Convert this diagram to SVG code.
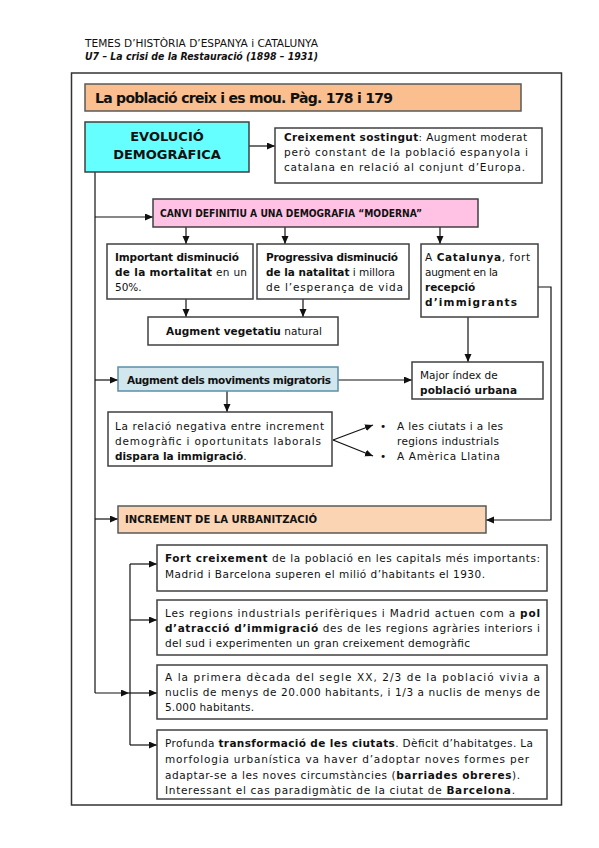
<svg xmlns="http://www.w3.org/2000/svg" width="599" height="848" viewBox="0 0 599 848">
<style>
text{font-family:"DejaVu Sans","Liberation Sans",sans-serif;fill:#111;}
.b{font-weight:bold;}
.t{font-size:10.5px;}
.box{stroke:#404040;stroke-width:1.5;fill:#fff;}
.ln{stroke:#111;stroke-width:1.2;fill:none;}
.ar{marker-end:url(#ah);}
</style>
<defs>
<marker id="ah" markerUnits="userSpaceOnUse" markerWidth="9" markerHeight="8" refX="8" refY="3.5" orient="auto">
<path d="M0,0 L8,3.5 L0,7 z" fill="#111"/>
</marker>
</defs>
<rect width="599" height="848" fill="#fff"/>
<g id="header">
<text x="85" y="47" font-size="10" textLength="233" lengthAdjust="spacingAndGlyphs">TEMES D’HISTÒRIA D’ESPANYA i CATALUNYA</text>
<text x="85" y="60" font-size="10" font-weight="bold" font-style="italic" textLength="233" lengthAdjust="spacingAndGlyphs">U7 – La crisi de la Restauració (1898 – 1931)</text>
<rect x="71.5" y="73" width="490" height="732" fill="none" stroke="#333" stroke-width="1.5"/>
</g>
<g id="title">
<rect x="85" y="84" width="436" height="27" fill="#FBBF8F" stroke="#595959" stroke-width="1.5"/>
<text x="95" y="103" font-size="14" class="b" textLength="298">La població creix i es mou. Pàg. 178 i 179</text>
</g>
<g id="connectors">
<path class="ln ar" d="M249,146 H275"/>
<path class="ln" d="M95,172 V693"/>
<path class="ln ar" d="M95,217 H153"/>
<path class="ln ar" d="M186,227 V244"/>
<path class="ln ar" d="M285,227 V244"/>
<path class="ln ar" d="M440,227 V244"/>
<path class="ln ar" d="M186,299 V317"/>
<path class="ln ar" d="M303,299 V317"/>
<path class="ln ar" d="M468,317 V362"/>
<path class="ln ar" d="M538,287 H551 V520 H486"/>
<path class="ln ar" d="M95,380 H118"/>
<path class="ln ar" d="M338,380 H412"/>
<path class="ln ar" d="M227,391 V412"/>
<path class="ln ar" d="M333,440 L373,425"/>
<path class="ln ar" d="M333,440 L373,456"/>
<path class="ln ar" d="M95,519 H118"/>
<path class="ln ar" d="M95,693 H129"/>
<path class="ln ar" d="M129,693 H157"/>
<path class="ln" d="M130,564 V745"/>
<path class="ln ar" d="M130,564 H157"/>
<path class="ln ar" d="M130,620 H157"/>
<path class="ln ar" d="M130,745 H157"/>
</g>
<g id="evolucio">
<rect x="85" y="122" width="164" height="50" fill="#66FFFF" stroke="#404040" stroke-width="1.5"/>
<text x="167" y="141" font-size="13" class="b" text-anchor="middle">EVOLUCIÓ</text>
<text x="167" y="159" font-size="13" class="b" text-anchor="middle">DEMOGRÀFICA</text>
</g>
<g id="creixement">
<rect class="box" x="275" y="128" width="267" height="55"/>
<text class="t" x="284" y="141" textLength="243"><tspan class="b">Creixement sostingut</tspan>: Augment moderat</text>
<text class="t" x="284" y="156" textLength="244">però constant de la població espanyola i</text>
<text class="t" x="284" y="171" textLength="241">catalana en relació al conjunt d’Europa.</text>
</g>
<g id="canvi">
<rect x="153" y="199" width="325" height="28" fill="#FFC2E4" stroke="#404040" stroke-width="1.5"/>
<text x="160" y="217" font-size="10" class="b" textLength="262" lengthAdjust="spacingAndGlyphs">CANVI DEFINITIU A UNA DEMOGRAFIA “MODERNA”</text>
</g>
<g id="mortalitat">
<rect class="box" x="107" y="244" width="146" height="55"/>
<text class="t" x="115" y="261" textLength="124"><tspan class="b">Important disminució</tspan></text>
<text class="t" x="115" y="276" textLength="132"><tspan class="b">de la mortalitat</tspan> en un</text>
<text class="t" x="115" y="291">50%.</text>
</g>
<g id="natalitat">
<rect class="box" x="257" y="244" width="152" height="55"/>
<text class="t" x="266" y="261" textLength="132"><tspan class="b">Progressiva disminució</tspan></text>
<text class="t" x="266" y="276" textLength="129"><tspan class="b">de la natalitat</tspan> i millora</text>
<text class="t" x="266" y="291" textLength="137">de l’esperança de vida</text>
</g>
<g id="catalunya">
<rect class="box" x="421" y="244" width="117" height="73"/>
<text class="t" x="425" y="261" textLength="105">A <tspan class="b">Catalunya</tspan>, fort</text>
<text class="t" x="425" y="276" textLength="73">augment en la</text>
<text class="t b" x="425" y="291">recepció</text>
<text class="t" x="425" y="306" textLength="92"><tspan class="b">d’immigrants</tspan></text>
</g>
<g id="vegetatiu">
<rect class="box" x="148" y="317" width="190" height="28"/>
<text class="t" x="166" y="335" textLength="156"><tspan class="b">Augment vegetatiu</tspan> natural</text>
</g>
<g id="moviments">
<rect x="118" y="367" width="220" height="24" fill="#D2E6EE" stroke="#5B8FA8" stroke-width="1.5"/>
<text class="t b" x="127" y="384" textLength="204">Augment dels moviments migratoris</text>
</g>
<g id="major">
<rect class="box" x="412" y="362" width="131" height="37"/>
<text class="t" x="420" y="379">Major índex de</text>
<text class="t b" x="420" y="394" textLength="97">població urbana</text>
</g>
<g id="relacio">
<rect class="box" x="108" y="412" width="224" height="54"/>
<text class="t" x="115" y="430" textLength="209">La relació negativa entre increment</text>
<text class="t" x="115" y="445" textLength="206">demogràfic i oportunitats laborals</text>
<text class="t" x="115" y="460"><tspan class="b">dispara la immigració</tspan>.</text>
</g>
<g id="destins">
<text class="t" x="380" y="430">•</text>
<text class="t" x="397" y="430" textLength="106">A les ciutats i a les</text>
<text class="t" x="397" y="445" textLength="102">regions industrials</text>
<text class="t" x="380" y="460">•</text>
<text class="t" x="397" y="460" textLength="103">A Amèrica Llatina</text>
</g>
<g id="urbanitzacio">
<rect x="118" y="506" width="368" height="27" fill="#FBD4B4" stroke="#595959" stroke-width="1.5"/>
<text x="125" y="523" font-size="10" class="b" textLength="192" lengthAdjust="spacingAndGlyphs">INCREMENT DE LA URBANITZACIÓ</text>
</g>
<g id="capitals">
<rect class="box" x="157" y="545" width="390" height="46"/>
<text class="t" x="165" y="562" textLength="375"><tspan class="b">Fort creixement</tspan> de la població en les capitals més importants:</text>
<text class="t" x="165" y="578" textLength="320">Madrid i Barcelona superen el milió d’habitants el 1930.</text>
</g>
<g id="regions">
<rect class="box" x="157" y="600" width="390" height="55"/>
<text class="t" x="165" y="617" textLength="375">Les regions industrials perifèriques i Madrid actuen com a <tspan class="b">pol</tspan></text>
<text class="t" x="165" y="632" textLength="375"><tspan class="b">d’atracció d’immigració</tspan> des de les regions agràries interiors i</text>
<text class="t" x="165" y="647" textLength="305">del sud i experimenten un gran creixement demogràfic</text>
</g>
<g id="nuclis">
<rect class="box" x="157" y="665" width="390" height="54"/>
<text class="t" x="165" y="681" textLength="375">A la primera dècada del segle XX, 2/3 de la població vivia a</text>
<text class="t" x="165" y="696" textLength="375">nuclis de menys de 20.000 habitants, i 1/3 a nuclis de menys de</text>
<text class="t" x="165" y="711" textLength="89">5.000 habitants.</text>
</g>
<g id="ciutats">
<rect class="box" x="157" y="730" width="390" height="69"/>
<text class="t" x="165" y="747" textLength="368">Profunda <tspan class="b">transformació de les ciutats</tspan>. Dèficit d’habitatges. La</text>
<text class="t" x="165" y="763" textLength="364">morfologia urbanística va haver d’adoptar noves formes per</text>
<text class="t" x="165" y="779" textLength="355">adaptar-se a les noves circumstàncies (<tspan class="b">barriades obreres</tspan>).</text>
<text class="t" x="165" y="794" textLength="350">Interessant el cas paradigmàtic de la ciutat de <tspan class="b">Barcelona</tspan>.</text>
</g>
</svg>
